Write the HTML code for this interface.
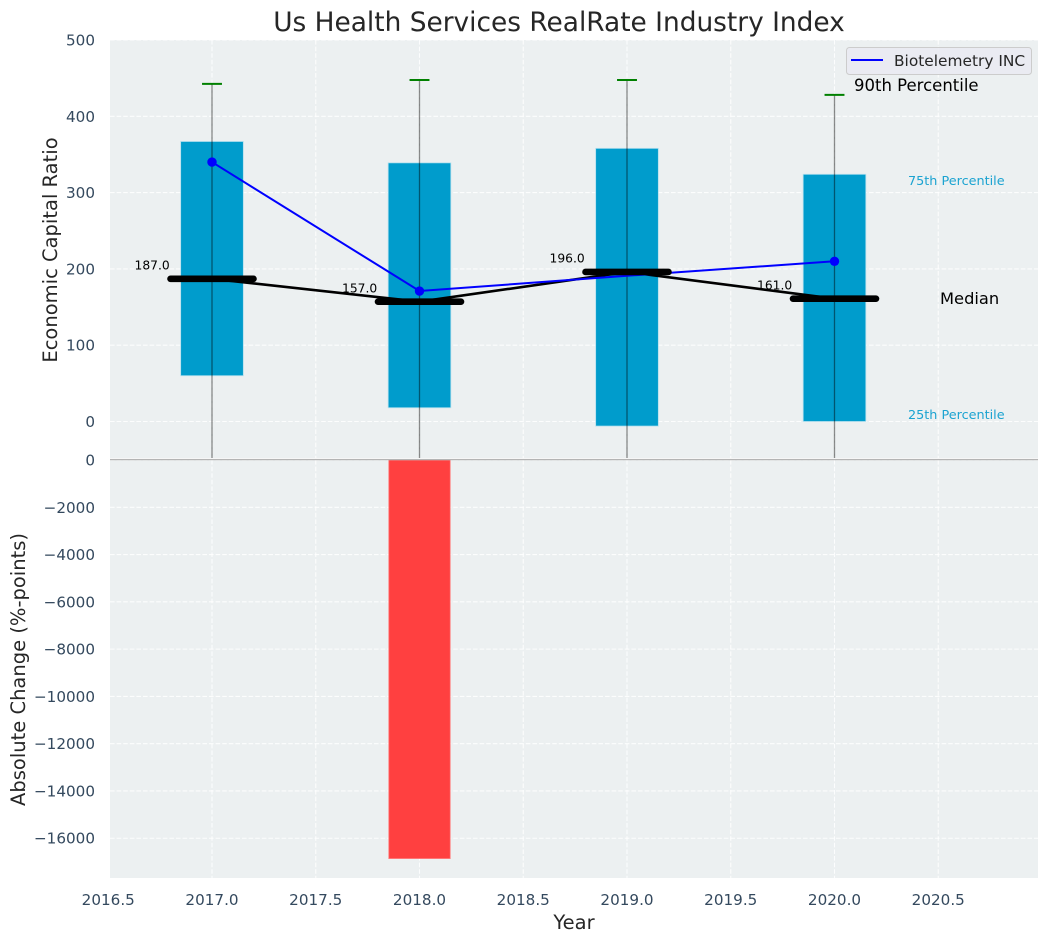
<!DOCTYPE html>
<html lang="en">
<head>
<meta charset="utf-8">
<title>Us Health Services RealRate Industry Index</title>
<style>
html,body{margin:0;padding:0;background:#fff;width:1048px;height:942px;overflow:hidden}
svg{display:block}
text{font-family:"DejaVu Sans","Liberation Sans",sans-serif}
</style>
</head>
<body>
<svg id="chart" xmlns="http://www.w3.org/2000/svg" width="1048" height="942" viewBox="0 0 1048 942">
<defs>
<clipPath id="clip-top"><rect x="110" y="40" width="928" height="418"/></clipPath>
<clipPath id="clip-bottom"><rect x="110" y="460" width="928" height="418"/></clipPath>
</defs>
<rect x="110" y="40" width="928" height="418" fill="#ecf0f1"/>
<rect x="110" y="460" width="928" height="418" fill="#ecf0f1"/>
<g id="grid"></g>
<g id="ticks"></g>
<g id="marks-top" clip-path="url(#clip-top)"></g>
<g id="marks-bottom" clip-path="url(#clip-bottom)"></g>
<line x1="110" x2="1038" y1="459.6" y2="459.6" stroke="#b4b4b4" stroke-width="1.4"/>
<text x="559" y="31" text-anchor="middle" font-size="26.4" fill="#262626">Us Health Services RealRate Industry Index</text>
<text transform="translate(57,250) rotate(-90)" text-anchor="middle" font-size="19.5" fill="#262626">Economic Capital Ratio</text>
<text transform="translate(25,669.5) rotate(-90)" text-anchor="middle" font-size="19.5" fill="#262626">Absolute Change (%-points)</text>
<text x="574" y="929" text-anchor="middle" font-size="19.5" fill="#262626">Year</text>
<text x="854" y="91" font-size="16.5" fill="#000">90th Percentile</text>
<text x="908" y="185" font-size="12.8" fill="#1ba3d1">75th Percentile</text>
<text x="940" y="304" font-size="16.3" fill="#000">Median</text>
<text x="908" y="419" font-size="12.8" fill="#1ba3d1">25th Percentile</text>
<g>
<rect x="846.5" y="47.5" width="185" height="27" rx="3" fill="#eaeaf2" fill-opacity="0.9" stroke="#cccccc"/>
<line x1="851" x2="883" y1="60" y2="60" stroke="#0000ff" stroke-width="2"/>
<text x="894" y="66" font-size="15.4" fill="#262626">Biotelemetry INC</text>
</g>
</svg>
<script>
const years = [2017, 2018, 2019, 2020];
const p25 = [60, 18, -6, 0];
const p75 = [367, 339, 358, 324];
const p90 = [442.5, 447.5, 447.5, 428];
const whiskerLow = [-200, -200, -200, -200];
const medians = [187, 157, 196, 161];
const medianLabels = ['187.0', '157.0', '196.0', '161.0'];
const company = [340, 171, 191, 210];
const companyMarkers = [true, true, false, true];
const changeYears = [2018];
const changeValues = [-16860];
const xTicks = [2016.5, 2017, 2017.5, 2018, 2018.5, 2019, 2019.5, 2020, 2020.5];
const xTickLabels = ['2016.5', '2017.0', '2017.5', '2018.0', '2018.5', '2019.0', '2019.5', '2020.0', '2020.5'];
const upperTicks = [0, 100, 200, 300, 400, 500];
const upperTickLabels = ['0', '100', '200', '300', '400', '500'];
const lowerTicks = [0, -2000, -4000, -6000, -8000, -10000, -12000, -14000, -16000];
const lowerTickLabels = ['0', '\u22122000', '\u22124000', '\u22126000', '\u22128000', '\u221210000', '\u221212000', '\u221214000', '\u221216000'];

const NS = 'http://www.w3.org/2000/svg';
const X = v => 212 + (v - 2017) * 207.5;
const YU = v => 421.5 - v * 0.763;
const YL = v => 460 - v * 0.02364;

function mk(parent, tag, props, content) {
  const el = document.createElementNS(NS, tag);
  Object.keys(props).forEach(k => el.setAttribute(k, props[k]));
  if (content !== undefined) el.textContent = content;
  parent.appendChild(el);
  return el;
}

const grid = document.getElementById('grid');
const ticks = document.getElementById('ticks');
const top_ = document.getElementById('marks-top');
const bottom = document.getElementById('marks-bottom');
const gridStyle = {stroke: '#ffffff', 'stroke-width': 1.1, 'stroke-opacity': 0.85, 'stroke-dasharray': '4.6 2', fill: 'none'};
const tickFont = 15.2;

xTicks.forEach((t, i) => {
  if (X(t) >= 110) {
    const a = mk(grid, 'line', Object.assign({x1: X(t), x2: X(t), y1: 40, y2: 458}, gridStyle));
    
    
    const b = mk(grid, 'line', Object.assign({x1: X(t), x2: X(t), y1: 460, y2: 878}, gridStyle));
    
    
  }
  const label = mk(ticks, 'text', {x: X(t), y: 905, 'text-anchor': 'middle', 'font-size': tickFont, fill: '#34495e'}, xTickLabels[i]);
  
  
});
upperTicks.forEach((t, i) => {
  const a = mk(grid, 'line', Object.assign({x1: 110, x2: 1038, y1: YU(t), y2: YU(t)}, gridStyle));
  
  
  const label = mk(ticks, 'text', {x: 95, y: YU(t) + 5.5, 'text-anchor': 'end', 'font-size': tickFont, fill: '#34495e'}, upperTickLabels[i]);
  
  
});
lowerTicks.forEach((t, i) => {
  const a = mk(grid, 'line', Object.assign({x1: 110, x2: 1038, y1: YL(t), y2: YL(t)}, gridStyle));
  
  
  const label = mk(ticks, 'text', {x: 95, y: YL(t) + 5.5, 'text-anchor': 'end', 'font-size': tickFont, fill: '#34495e'}, lowerTickLabels[i]);
  
  
});

const halfBox = 0.151;
years.forEach((yr, i) => {
  const box = mk(top_, 'rect', {x: X(yr - halfBox), width: X(yr + halfBox) - X(yr - halfBox), y: YU(p75[i]), height: YU(p25[i]) - YU(p75[i]), fill: '#009ccc', stroke: '#b4e0ee', 'stroke-width': 0.8});
  
  
});
years.forEach((yr, i) => {
  const w = mk(top_, 'line', {x1: X(yr), x2: X(yr), y1: YU(p90[i]), y2: YU(whiskerLow[i]), stroke: '#000000', 'stroke-opacity': 0.45, 'stroke-width': 1.3});
  
  
  const c = mk(top_, 'line', {x1: X(yr - 0.048), x2: X(yr + 0.048), y1: YU(p90[i]), y2: YU(p90[i]), stroke: '#008000', 'stroke-width': 2});
  
  
});
years.forEach((yr, i) => {
  const t = mk(top_, 'text', {x: X(yr) - 77.5, y: YU(medians[i]) - 9.3, 'font-size': 12.3, fill: '#000'}, medianLabels[i]);
  
  
});
const medPts = years.map((yr, i) => X(yr) + ',' + YU(medians[i])).join(' ');
const medLine = mk(top_, 'polyline', {points: medPts, fill: 'none', stroke: '#000', 'stroke-width': 2.6});


const coPts = years.map((yr, i) => X(yr) + ',' + YU(company[i])).join(' ');
const coLine = mk(top_, 'polyline', {points: coPts, fill: 'none', stroke: '#0000ff', 'stroke-width': 2});


years.forEach((yr, i) => {
  if (!companyMarkers[i]) return;
  const m = mk(top_, 'circle', {cx: X(yr), cy: YU(company[i]), r: 4.7, fill: '#0000ff'});
  
  
});
years.forEach((yr, i) => {
  const m = mk(top_, 'line', {x1: X(yr - 0.2), x2: X(yr + 0.2), y1: YU(medians[i]), y2: YU(medians[i]), stroke: '#000', 'stroke-width': 6.6, 'stroke-linecap': 'round'});
  
  
});
changeYears.forEach((yr, i) => {
  const b = mk(bottom, 'rect', {x: X(yr - 0.148), width: X(yr + 0.148) - X(yr - 0.148), y: YL(0), height: YL(changeValues[i]) - YL(0), fill: '#ff4040', stroke: '#ff7d7d', 'stroke-width': 0.8});
  
  
});
</script>
</body>
</html>
